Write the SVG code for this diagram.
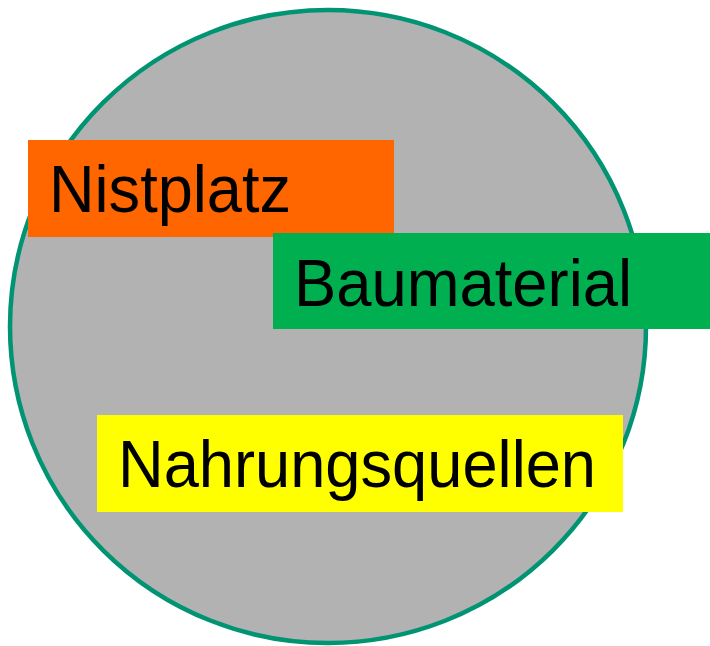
<svg xmlns="http://www.w3.org/2000/svg" width="710" height="646" viewBox="0 0 710 646">
  <style>
    .lbl { font-family: "Liberation Sans", Arial, sans-serif; font-size: 66px; fill: #000000; }
  </style>
  <rect width="710" height="646" fill="#ffffff"/>
  <g id="habitat">
    <ellipse cx="328" cy="326.5" rx="318" ry="316.5" fill="#b2b2b2" stroke="#009473" stroke-width="4.5"/>
  </g>
  <g id="nistplatz">
    <rect x="28" y="140" width="366" height="97" fill="#ff6600"/>
    <text class="lbl" x="49" y="212" textLength="242" lengthAdjust="spacingAndGlyphs">Nistplatz</text>
  </g>
  <g id="baumaterial">
    <rect x="273" y="233" width="437" height="96" fill="#00b050"/>
    <text class="lbl" x="294" y="305.5" textLength="338" lengthAdjust="spacingAndGlyphs">Baumaterial</text>
  </g>
  <g id="nahrungsquellen">
    <rect x="97" y="415" width="526" height="97" fill="#ffff00"/>
    <text class="lbl" x="118" y="487" textLength="478" lengthAdjust="spacingAndGlyphs">Nahrungsquellen</text>
  </g>
  <g id="connectors"/>
</svg>
